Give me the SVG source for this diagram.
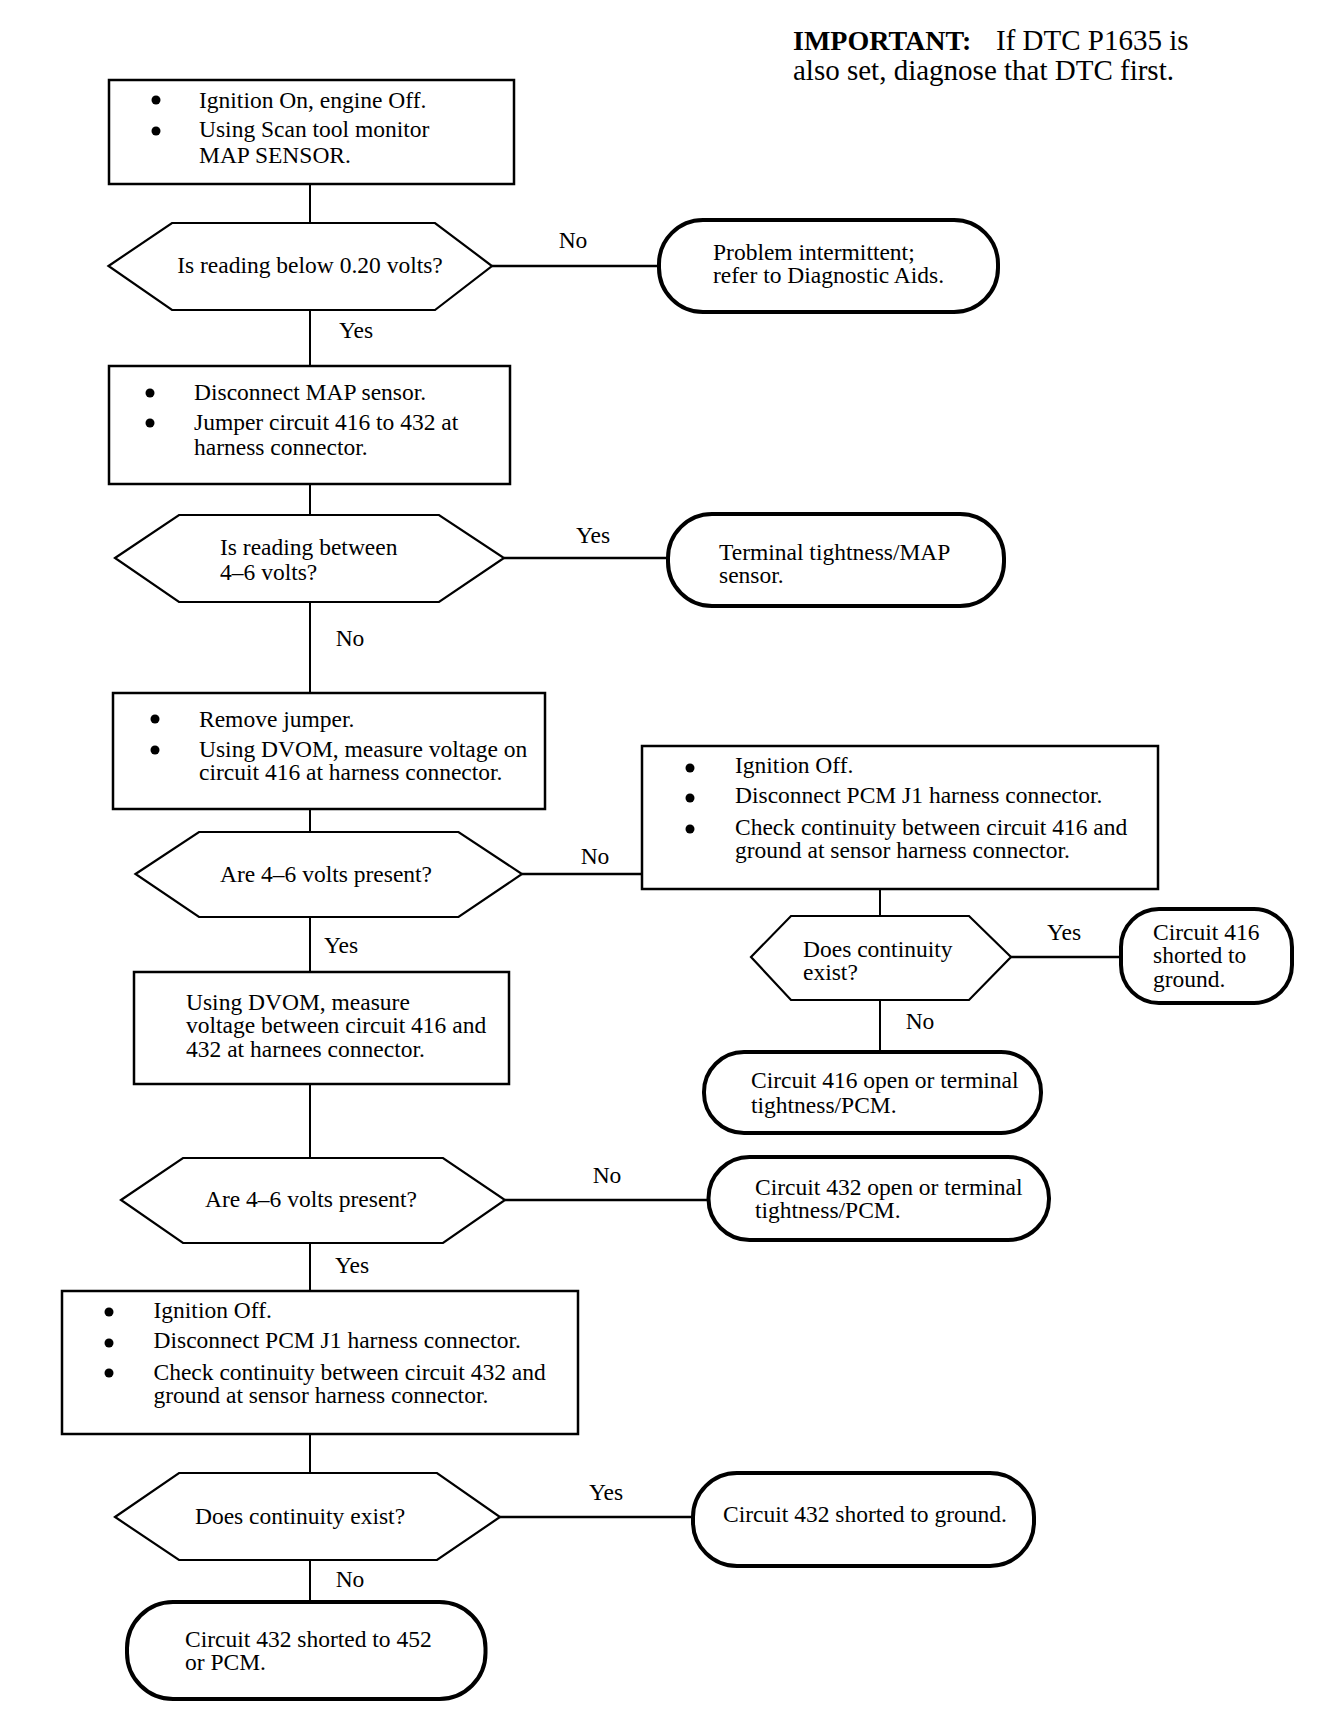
<svg xmlns="http://www.w3.org/2000/svg" width="1328" height="1720" viewBox="0 0 1328 1720">
<style>
text{font-family:"Liberation Serif","Times New Roman",serif;font-size:23.5px;fill:#000}
.imp{font-size:29px}
.c{text-anchor:middle}
.box{fill:#fff;stroke:#000;stroke-width:2.5}
.dec{fill:#fff;stroke:#000;stroke-width:2.2;stroke-linejoin:miter}
.term{fill:#fff;stroke:#000;stroke-width:4}
.ln{stroke:#000;stroke-width:2;fill:none}
.lh{stroke:#000;stroke-width:2.6;fill:none}
.b{fill:#000}
</style>
<rect width="1328" height="1720" fill="#fff"/>
<g id="connectors">
<line class="ln" x1="310" y1="184" x2="310" y2="223"/>
<line class="ln" x1="310" y1="310" x2="310" y2="366"/>
<line class="ln" x1="310" y1="484" x2="310" y2="515"/>
<line class="ln" x1="310" y1="602" x2="310" y2="693"/>
<line class="ln" x1="310" y1="809" x2="310" y2="832"/>
<line class="ln" x1="310" y1="917" x2="310" y2="972"/>
<line class="ln" x1="310" y1="1084" x2="310" y2="1158"/>
<line class="ln" x1="310" y1="1243" x2="310" y2="1291"/>
<line class="ln" x1="310" y1="1434" x2="310" y2="1473"/>
<line class="ln" x1="310" y1="1560" x2="310" y2="1602"/>
<line class="lh" x1="492" y1="266" x2="659" y2="266"/>
<line class="lh" x1="504" y1="558" x2="668" y2="558"/>
<line class="lh" x1="522" y1="874" x2="642" y2="874"/>
<line class="ln" x1="880" y1="889" x2="880" y2="916"/>
<line class="lh" x1="1011" y1="957" x2="1121" y2="957"/>
<line class="ln" x1="880" y1="1000" x2="880" y2="1052"/>
<line class="lh" x1="505" y1="1200" x2="708" y2="1200"/>
<line class="lh" x1="500" y1="1517" x2="693" y2="1517"/>
<text class="c" x="573" y="248">No</text>
<text class="c" x="356" y="338">Yes</text>
<text class="c" x="593" y="543">Yes</text>
<text class="c" x="350" y="646">No</text>
<text class="c" x="595" y="864">No</text>
<text class="c" x="341" y="953">Yes</text>
<text class="c" x="1064" y="940">Yes</text>
<text class="c" x="920" y="1029">No</text>
<text class="c" x="607" y="1183">No</text>
<text class="c" x="352" y="1273">Yes</text>
<text class="c" x="606" y="1500">Yes</text>
<text class="c" x="350" y="1587">No</text>
</g>
<g id="note">
<text class="imp" x="793" y="50"><tspan font-weight="bold" font-size="28">IMPORTANT:</tspan><tspan x="996">If DTC P1635 is</tspan></text>
<text class="imp" x="793" y="80" font-size="30">also set, diagnose that DTC first.</text>
</g>
<g id="step1">
<rect class="box" x="109" y="80" width="405" height="104"/>
<circle class="b" cx="156" cy="100" r="4.5"/>
<circle class="b" cx="156" cy="131" r="4.5"/>
<text x="199" y="108">Ignition On, engine Off.</text>
<text x="199" y="137">Using Scan tool monitor</text>
<text x="199" y="163">MAP SENSOR.</text>
</g>
<g id="q1">
<polygon class="dec" points="108.5,266 172,223 435,223 492,266 435,310 172,310"/>
<text class="c" x="310" y="273">Is reading below 0.20 volts?</text>
</g>
<g id="t1">
<rect class="term" x="659" y="220" width="339" height="92" rx="44"/>
<text x="713" y="260">Problem intermittent;</text>
<text x="713" y="283">refer to Diagnostic Aids.</text>
</g>
<g id="step2">
<rect class="box" x="109" y="366" width="401" height="118"/>
<circle class="b" cx="150" cy="393" r="4.5"/>
<circle class="b" cx="150" cy="423" r="4.5"/>
<text x="194" y="400">Disconnect MAP sensor.</text>
<text x="194" y="430">Jumper circuit 416 to 432 at</text>
<text x="194" y="455">harness connector.</text>
</g>
<g id="q2">
<polygon class="dec" points="115,558 179,515 439,515 504,558 439,602 179,602"/>
<text x="220" y="555">Is reading between</text>
<text x="220" y="580">4–6 volts?</text>
</g>
<g id="t2">
<rect class="term" x="668" y="514" width="336" height="92" rx="44"/>
<text x="719" y="560">Terminal tightness/MAP</text>
<text x="719" y="583">sensor.</text>
</g>
<g id="step3">
<rect class="box" x="113" y="693" width="432" height="116"/>
<circle class="b" cx="155" cy="719" r="4.5"/>
<circle class="b" cx="155" cy="750" r="4.5"/>
<text x="199" y="727">Remove jumper.</text>
<text x="199" y="757">Using DVOM, measure voltage on</text>
<text x="199" y="780">circuit 416 at harness connector.</text>
</g>
<g id="q3">
<polygon class="dec" points="135.5,874 199,832 458.5,832 522,874 458.5,917 199,917"/>
<text class="c" x="326" y="882">Are 4–6 volts present?</text>
</g>
<g id="step4">
<rect class="box" x="642" y="746" width="516" height="143"/>
<circle class="b" cx="690" cy="768" r="4.5"/>
<circle class="b" cx="690" cy="798" r="4.5"/>
<circle class="b" cx="690" cy="829" r="4.5"/>
<text x="735" y="773">Ignition Off.</text>
<text x="735" y="803">Disconnect PCM J1 harness connector.</text>
<text x="735" y="835">Check continuity between circuit 416 and</text>
<text x="735" y="858">ground at sensor harness connector.</text>
</g>
<g id="q4">
<polygon class="dec" points="751,957 791,916 969,916 1011,957 969,1000 791,1000"/>
<text x="803" y="957">Does continuity</text>
<text x="803" y="980">exist?</text>
</g>
<g id="t416g">
<rect class="term" x="1121" y="909" width="171" height="94" rx="38"/>
<text x="1153" y="940">Circuit 416</text>
<text x="1153" y="963">shorted to</text>
<text x="1153" y="987">ground.</text>
</g>
<g id="t416o">
<rect class="term" x="704" y="1052" width="337" height="81" rx="40"/>
<text x="751" y="1088">Circuit 416 open or terminal</text>
<text x="751" y="1113">tightness/PCM.</text>
</g>
<g id="step5">
<rect class="box" x="134" y="972" width="375" height="112"/>
<text x="186" y="1010">Using DVOM, measure</text>
<text x="186" y="1033">voltage between circuit 416 and</text>
<text x="186" y="1057">432 at harnees connector.</text>
</g>
<g id="q5">
<polygon class="dec" points="121,1200 183,1158 443,1158 505,1200 443,1243 183,1243"/>
<text class="c" x="311" y="1207">Are 4–6 volts present?</text>
</g>
<g id="t432o">
<rect class="term" x="708.5" y="1157" width="340.5" height="83" rx="41"/>
<text x="755" y="1195">Circuit 432 open or terminal</text>
<text x="755" y="1218">tightness/PCM.</text>
</g>
<g id="step6">
<rect class="box" x="62" y="1291" width="516" height="143"/>
<circle class="b" cx="109" cy="1312" r="4.5"/>
<circle class="b" cx="109" cy="1343" r="4.5"/>
<circle class="b" cx="109" cy="1373" r="4.5"/>
<text x="153.5" y="1318">Ignition Off.</text>
<text x="153.5" y="1348">Disconnect PCM J1 harness connector.</text>
<text x="153.5" y="1380">Check continuity between circuit 432 and</text>
<text x="153.5" y="1403">ground at sensor harness connector.</text>
</g>
<g id="q6">
<polygon class="dec" points="115,1517 179,1473 437,1473 500,1517 437,1560 179,1560"/>
<text class="c" x="300" y="1524">Does continuity exist?</text>
</g>
<g id="t432g">
<rect class="term" x="693" y="1473" width="341" height="93" rx="44"/>
<text x="723" y="1522">Circuit 432 shorted to ground.</text>
</g>
<g id="t432p">
<rect class="term" x="127" y="1602" width="358.5" height="97" rx="46"/>
<text x="185" y="1647">Circuit 432 shorted to 452</text>
<text x="185" y="1670">or PCM.</text>
</g>
</svg>
